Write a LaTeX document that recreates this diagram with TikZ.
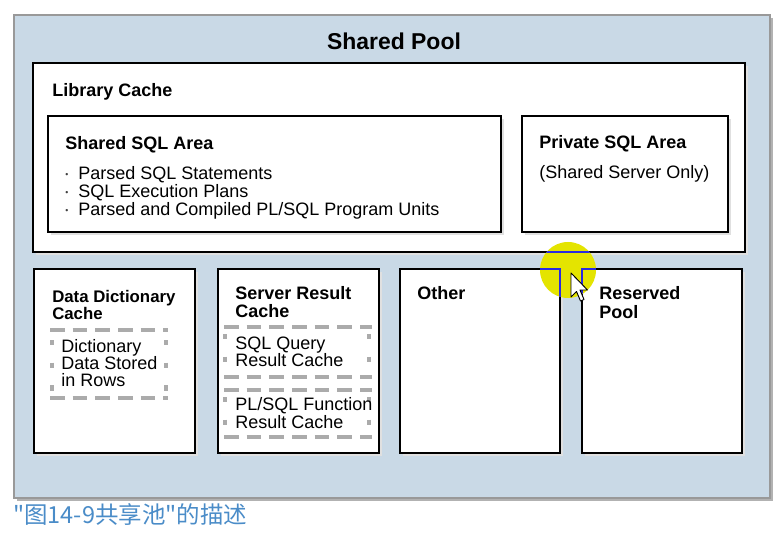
\documentclass[tikz,border=0pt]{standalone}
\usepackage{fontspec}
\setmainfont{Liberation Sans}
\newfontfamily\cjk{Noto Sans CJK SC}
\definecolor{poolblue}{HTML}{C9D9E6}
\definecolor{capblue}{HTML}{4A8CC8}
\definecolor{dashgray}{HTML}{ABABAB}
\definecolor{hiyellow}{HTML}{E4E400}
\definecolor{hiblue}{HTML}{2A2AE0}
\begin{document}
\begin{tikzpicture}[x=0.75pt,y=-0.75pt,
  boxline/.style={draw=black, line width=1.5pt, fill=white},
  boxshadow/.style={fill=black!12},
  ttl/.style={font=\fontsize{13.5}{16}\selectfont\bfseries, anchor=base west, inner sep=0pt},
  ttlsmall/.style={font=\fontsize{12.6}{15}\selectfont\bfseries, anchor=base west, inner sep=0pt},
  txt/.style={font=\fontsize{13.5}{16}\selectfont, anchor=base west, inner sep=0pt},
  bul/.style={font=\fontsize{6.5}{8}\selectfont, text=black!75, anchor=base west, inner sep=0pt},
  hdash/.style={draw=dashgray, line width=2.3pt, dash pattern=on 11 off 6},
  vdash/.style={draw=dashgray, line width=2.3pt, dash pattern=on 4 off 13}
]
\useasboundingbox (0,0) rectangle (784,534);
\fill[white] (0,0) rectangle (784,534);

% outer pool
\fill[black!30] (17,18) rectangle (773,501);
\draw[draw=black!40, line width=0.8pt, fill=poolblue] (14,15) rectangle (770,498);
\node[font=\fontsize{17.2}{20}\selectfont\bfseries, anchor=base, inner sep=0pt] (pool) at (394,50) {Shared Pool};

% library cache
\fill[boxshadow] (36,66) rectangle (748,255);
\draw[boxline] (33,63) rectangle (745,252);
\node[ttl] (lib) at (52,97) {Library Cache};

% shared SQL area
\fill[boxshadow] (51,119) rectangle (504,235);
\draw[boxline] (48,116) rectangle (501,232);
\node[ttl] (ssa) at (65,150) {Shared SQL Area};
\node[bul] (b1) at (65,178) {\textbullet};
\node[txt] (s1) at (78,180) {Parsed SQL Statements};
\node[bul] (b2) at (65,196) {\textbullet};
\node[txt] (s2) at (78,198) {SQL Execution Plans};
\node[bul] (b3) at (65,214) {\textbullet};
\node[txt] (s3) at (78,216) {Parsed and Compiled PL/SQL Program Units};

% private SQL area
\fill[boxshadow] (525,119) rectangle (731,235);
\draw[boxline] (522,116) rectangle (728,232);
\node[ttl] (psa) at (539,149) {Private SQL Area};
\node[txt] (psa2) at (539,179) {(Shared Server Only)};

% bottom boxes
\foreach \l/\r in {34/195, 218/379, 400/560, 582/742}{
  \fill[boxshadow] (\l+3,272) rectangle (\r+3,456);
  \draw[boxline] (\l,269) rectangle (\r,453);
}

% data dictionary cache
\node[ttlsmall] (dd1) at (52,302) {Data Dictionary};
\node[ttlsmall] (dd2) at (52,319) {Cache};
\draw[hdash] (50,330) -- (168,330);
\draw[hdash] (50,398) -- (168,398);
\draw[vdash] (52,340) -- (52,392);
\draw[vdash] (166,340) -- (166,392);
\node[txt] (dd3) at (61,352) {Dictionary};
\node[txt] (dd4) at (61,369) {Data Stored};
\node[txt] (dd5) at (61,386) {in Rows};

% server result cache
\node[ttl] (sr1) at (235,299) {Server Result};
\node[ttl] (sr2) at (235,317) {Cache};
\draw[hdash] (224,327) -- (372,327);
\draw[hdash] (224,377) -- (372,377);
\draw[vdash] (225,334) -- (225,372);
\draw[vdash] (369,334) -- (369,372);
\node[txt] (sq1) at (235,349) {SQL Query};
\node[txt] (sq2) at (235,366) {Result Cache};
\draw[hdash] (224,390) -- (372,390);
\draw[hdash] (224,437) -- (372,437);
\draw[vdash] (225,397) -- (225,432);
\draw[vdash] (369,397) -- (369,432);
\node[txt] (pl1) at (235,410) {PL/SQL Function};
\node[txt] (pl2) at (235,428) {Result Cache};

% other and reserved pool
\node[ttl] (oth) at (417,300) {Other};
\node[ttl] (rp1) at (599,300) {Reserved};
\node[ttl] (rp2) at (599,318) {Pool};

% screen-recording highlight
\fill[hiyellow] (568,270) circle (28);
\begin{scope}
  \clip (568,270) circle (28);
  \draw[hiblue, line width=1.5pt] (33,252) -- (745,252);
  \draw[hiblue, line width=1.5pt] (400,269) -- (560,269) -- (560,453);
  \draw[hiblue, line width=1.5pt] (742,269) -- (582,269) -- (582,453);
\end{scope}
\draw[fill=white, draw=black, line width=0.7pt, line join=round]
  (571,273) -- (571,297) -- (576.5,291.5) -- (580.5,301) -- (584,299.5) -- (580,290) -- (587.5,290) -- cycle;

% caption
\node[font=\cjk\fontsize{17.6}{20}\selectfont, text=capblue, anchor=base west, inner sep=0pt] (cap) at (13,523) {"图14-9共享池"的描述};
\end{tikzpicture}
\end{document}
